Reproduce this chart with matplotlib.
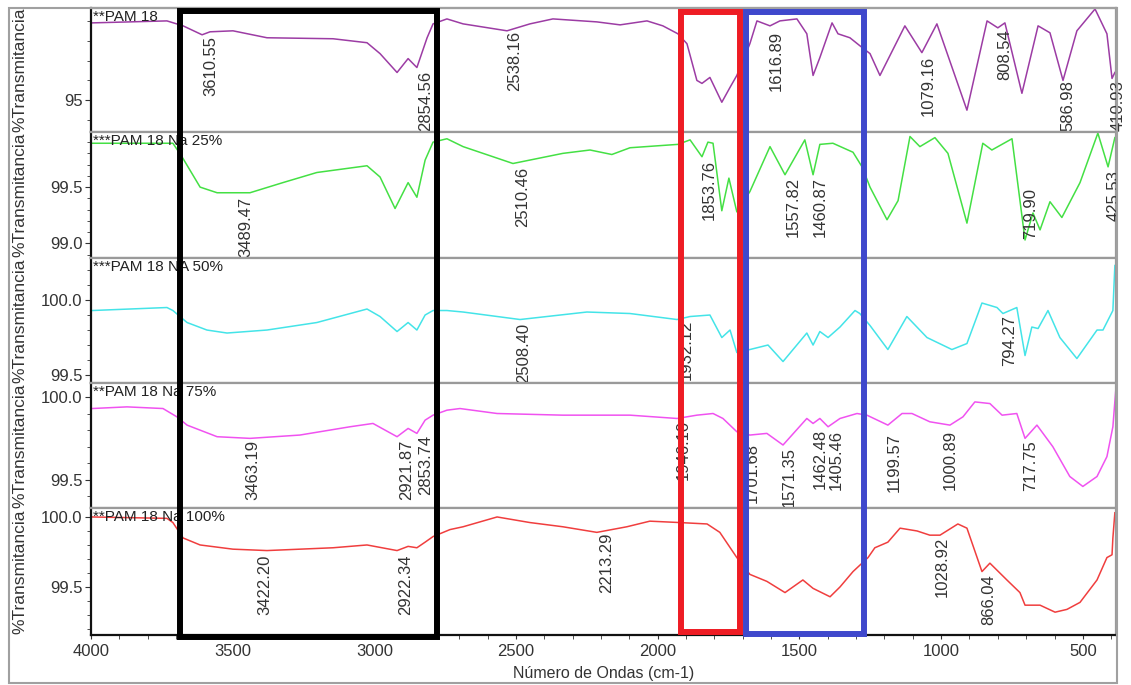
import matplotlib
matplotlib.use("Agg")
import matplotlib.pyplot as plt
import matplotlib.transforms as mtransforms
from matplotlib.patches import Rectangle
from matplotlib.ticker import MultipleLocator, FormatStrFormatter

plt.rcParams['font.family'] = ['Liberation Sans', 'DejaVu Sans']

# --- spectra (wavenumber cm-1, %T) ---
pam_w = [3996, 3732, 3675, 3608, 3580, 3499, 3379, 3146, 3026, 2980, 2920, 2881, 2850, 2814, 2793, 2744,
         2687, 2532, 2451, 2370, 2215, 2133, 2038, 1982, 1929, 1897, 1862, 1844, 1816, 1774, 1745, 1721,
         1675, 1650, 1604, 1569, 1509, 1474, 1452, 1428, 1385, 1364, 1322, 1287, 1251, 1216, 1128, 1068,
         1015, 909, 838, 800, 775, 715, 658, 616, 570, 521, 457, 415, 397, 387]
pam_t = [98.9, 99.0, 98.75, 98.3, 98.45, 98.5, 98.15, 98.1, 97.9, 97.35, 96.4, 97.1, 96.65, 98.15, 98.85, 99.1,
         98.85, 98.5, 98.85, 99.1, 98.95, 98.8, 99.0, 98.75, 98.35, 97.85, 96.0, 95.85, 96.15, 94.9, 95.65, 96.25,
         97.85, 99.0, 98.75, 99.0, 99.1, 98.35, 96.25, 97.15, 98.9, 98.35, 98.15, 97.75, 97.35, 96.25, 98.75, 97.4,
         98.85, 94.5, 99.0, 98.65, 98.9, 95.35, 98.75, 98.4, 96.0, 98.5, 99.6, 98.35, 96.1, 96.4]

na25_w = [3996, 3711, 3679, 3615, 3555, 3439, 3323, 3203, 3026, 2980, 2927, 2881, 2850, 2821, 2793, 2744,
          2687, 2511, 2335, 2239, 2162, 2098, 1929, 1886, 1844, 1823, 1805, 1774, 1749, 1721, 1675, 1604,
          1551, 1481, 1452, 1428, 1382, 1311, 1279, 1251, 1191, 1152, 1110, 1075, 1022, 976, 909, 853,
          821, 750, 704, 676, 651, 616, 574, 510, 447, 411, 387]
na25_t = [99.89, 99.89, 99.77, 99.5, 99.45, 99.45, 99.54, 99.63, 99.69, 99.59, 99.31, 99.54, 99.41, 99.74, 99.90, 99.93,
          99.86, 99.71, 99.80, 99.83, 99.79, 99.85, 99.88, 99.92, 99.77, 99.90, 99.89, 99.29, 99.58, 99.28, 99.46, 99.86,
          99.61, 99.92, 99.61, 99.88, 99.89, 99.81, 99.68, 99.50, 99.21, 99.38, 99.95, 99.86, 99.94, 99.80, 99.18, 99.89,
          99.83, 99.93, 99.03, 99.27, 99.12, 99.37, 99.23, 99.54, 99.98, 99.68, 99.94]

na50_w = [3996, 3732, 3711, 3661, 3591, 3520, 3379, 3203, 3026, 2980, 2920, 2881, 2850, 2821, 2793, 2744,
          2687, 2486, 2250, 2098, 1932, 1886, 1816, 1774, 1745, 1721, 1675, 1611, 1558, 1474, 1452, 1428,
          1399, 1357, 1304, 1287, 1251, 1188, 1121, 1050, 962, 909, 856, 803, 782, 733, 704, 680,
          658, 623, 581, 521, 450, 429, 394, 387]
na50_t = [99.93, 99.95, 99.93, 99.85, 99.80, 99.78, 99.80, 99.85, 99.94, 99.89, 99.79, 99.85, 99.80, 99.90, 99.93, 99.93,
          99.92, 99.87, 99.92, 99.91, 99.87, 99.89, 99.90, 99.75, 99.80, 99.65, 99.67, 99.70, 99.59, 99.78, 99.70, 99.79,
          99.75, 99.82, 99.93, 99.91, 99.83, 99.67, 99.89, 99.75, 99.67, 99.71, 99.98, 99.95, 99.91, 99.95, 99.63, 99.82,
          99.81, 99.93, 99.75, 99.61, 99.80, 99.80, 99.93, 100.23]

na75_w = [3996, 3873, 3746, 3697, 3661, 3555, 3439, 3263, 3086, 3005, 2920, 2881, 2850, 2821, 2793, 2744,
          2698, 2567, 2335, 2098, 1932, 1862, 1805, 1770, 1721, 1675, 1615, 1558, 1474, 1452, 1428, 1399,
          1357, 1297, 1262, 1188, 1138, 1103, 1040, 969, 923, 881, 828, 785, 733, 704, 662, 606,
          546, 500, 450, 415, 394, 383]
na75_t = [99.93, 99.94, 99.93, 99.88, 99.83, 99.76, 99.75, 99.77, 99.82, 99.84, 99.76, 99.81, 99.78, 99.86, 99.89, 99.92,
          99.93, 99.90, 99.89, 99.89, 99.87, 99.89, 99.90, 99.87, 99.79, 99.77, 99.78, 99.71, 99.87, 99.84, 99.87, 99.82,
          99.87, 99.90, 99.89, 99.83, 99.90, 99.90, 99.85, 99.83, 99.88, 99.97, 99.96, 99.89, 99.90, 99.75, 99.83, 99.70,
          99.52, 99.46, 99.52, 99.64, 99.82, 100.06]

na100_w = [3996, 3732, 3711, 3675, 3615, 3499, 3379, 3146, 3026, 2920, 2881, 2850, 2821, 2793, 2733, 2687,
           2567, 2451, 2335, 2215, 2109, 2028, 1922, 1826, 1781, 1721, 1675, 1615, 1551, 1488, 1452, 1392,
           1357, 1311, 1258, 1234, 1188, 1145, 1085, 1040, 1004, 941, 909, 856, 828, 768, 722, 704,
           651, 598, 556, 510, 450, 415, 397, 394, 387]
na100_t = [100.00, 99.99, 99.96, 99.85, 99.80, 99.77, 99.76, 99.78, 99.80, 99.76, 99.79, 99.78, 99.82, 99.86, 99.91, 99.93,
           100.00, 99.96, 99.93, 99.89, 99.93, 99.97, 99.96, 99.95, 99.89, 99.71, 99.59, 99.54, 99.46, 99.55, 99.49, 99.43,
           99.50, 99.61, 99.71, 99.78, 99.82, 99.92, 99.90, 99.87, 99.87, 99.95, 99.92, 99.61, 99.67, 99.55, 99.46, 99.37,
           99.37, 99.32, 99.34, 99.39, 99.55, 99.71, 99.73, 99.85, 100.03]

# peak labels: wavenumber and the %T where the label starts
pam_peaks = [3610.55, 2854.56, 2538.16, 1616.89, 1079.16, 808.54, 586.98, 410.93]
pam_peak_t = [98.25, 96.5, 98.5, 98.5, 97.25, 98.6, 96.0, 96.0]
na25_peaks = [3489.47, 2510.46, 1853.76, 1557.82, 1460.87, 719.90, 425.53]
na25_peak_t = [99.41, 99.68, 99.74, 99.59, 99.59, 99.49, 99.65]
na50_peaks = [2508.40, 1932.12, 794.27]
na50_peak_t = [99.85, 99.87, 99.90]
na75_peaks = [3463.19, 2921.87, 2853.74, 1946.10, 1701.68, 1571.35, 1462.48, 1405.46, 1199.57, 1000.89, 717.75]
na75_peak_t = [99.74, 99.74, 99.77, 99.86, 99.72, 99.70, 99.81, 99.80, 99.78, 99.80, 99.74]
na100_peaks = [3422.20, 2922.34, 2213.29, 1028.92, 866.04]
na100_peak_t = [99.73, 99.73, 99.89, 99.86, 99.59]

names = ['**PAM 18', '***PAM 18 Na 25%', '***PAM 18 NA 50%', '**PAM 18 Na 75%', '**PAM 18 Na 100%']
colors = ['#9c3ca4', '#44e044', '#44e4e8', '#f052f0', '#f03e3e']
ylims = [(93.4, 99.65), (98.87, 99.99), (99.447, 100.28), (99.33, 100.084), (99.157, 100.064)]
yticks = [[95], [99.0, 99.5], [99.5, 100.0], [99.5, 100.0], [99.5, 100.0]]
yfmt = ['%d', '%.1f', '%.1f', '%.1f', '%.1f']
yminor = [1, 0.1, 0.1, 0.1, 0.1]

series = [(pam_w, pam_t, pam_peaks, pam_peak_t),
          (na25_w, na25_t, na25_peaks, na25_peak_t),
          (na50_w, na50_t, na50_peaks, na50_peak_t),
          (na75_w, na75_t, na75_peaks, na75_peak_t),
          (na100_w, na100_t, na100_peaks, na100_peak_t)]

# highlighted regions (cm-1) drawn over all panels
boxes = [(3686, 2779, '#000000', 11, 637),
         (1918, 1710, '#ee1c24', 12, 632),
         (1689, 1272, '#3f48cc', 12, 634)]

W, H = 1131, 685
fig = plt.figure(figsize=(W / 100, H / 100), dpi=100)
edges = [8, 132, 258, 383, 508, 635]
left, right = 91, 1116
grey = '#9a9a9a'
txt = '#333333'

axes = []
for i, (w, t, pk, pkt) in enumerate(series):
    top, bot = edges[i], edges[i + 1]
    ax = fig.add_axes([left / W, 1 - bot / H, (right - left) / W, (bot - top) / H])
    ax.plot(w, t, color=colors[i], lw=1.1)
    ax.set_xlim(4000, 383)
    ax.set_ylim(*ylims[i])
    ax.set_yticks(yticks[i])
    ax.yaxis.set_major_formatter(FormatStrFormatter(yfmt[i]))
    ax.yaxis.set_minor_locator(MultipleLocator(yminor[i]))
    ax.tick_params(axis='y', which='major', length=4, color=txt, labelsize=12, labelcolor=txt, pad=2)
    ax.tick_params(axis='y', which='minor', length=3, color=txt)
    for s in ['top', 'right', 'bottom']:
        ax.spines[s].set_color(grey)
        ax.spines[s].set_linewidth(1.6)
    ax.spines['left'].set_color('#111111')
    ax.spines['left'].set_linewidth(1.6)
    if i < 4:
        ax.tick_params(axis='x', which='both', bottom=False, labelbottom=False)
    ax.text(0.002, 0.985, names[i], transform=ax.transAxes, va='top', ha='left',
            fontsize=11, color='#222222')
    for p, y in zip(pk, pkt):
        ax.annotate('%.2f' % p, xy=(p, y), xytext=(7, 0), textcoords='offset points',
                    rotation=90, ha='center', va='top', fontsize=12, color=txt,
                    annotation_clip=False)
    fig.text(20 / W, 1 - (top + bot) / 2 / H, '%Transmitancia', rotation=90,
             ha='center', va='center', fontsize=12.5, color=txt)
    axes.append(ax)

ax = axes[-1]
ax.spines['bottom'].set_color('#111111')
ax.xaxis.set_major_locator(MultipleLocator(500))
ax.xaxis.set_minor_locator(MultipleLocator(100))
ax.tick_params(axis='x', which='major', length=3, color=txt, labelsize=12, labelcolor=txt, pad=3.5)
ax.tick_params(axis='x', which='minor', length=3, color=txt)
ax.set_xlabel('Número de Ondas (cm-1)', fontsize=11.5, color=txt, labelpad=5)

blend = mtransforms.blended_transform_factory(ax.transData, fig.transFigure)
for w0, w1, c, y0, y1 in boxes:
    r = Rectangle((w0, 1 - y1 / H), w1 - w0, (y1 - y0) / H, transform=blend,
                  fill=False, ec=c, lw=4.3, zorder=10, clip_on=False)
    fig.add_artist(r)

fig.add_artist(Rectangle((9 / W, 1 - 683 / H), 1108 / W, 675 / H, transform=fig.transFigure,
                         fill=False, ec='#a0a0a0', lw=1.5, zorder=5))

fig.savefig('out.png', dpi=100)
